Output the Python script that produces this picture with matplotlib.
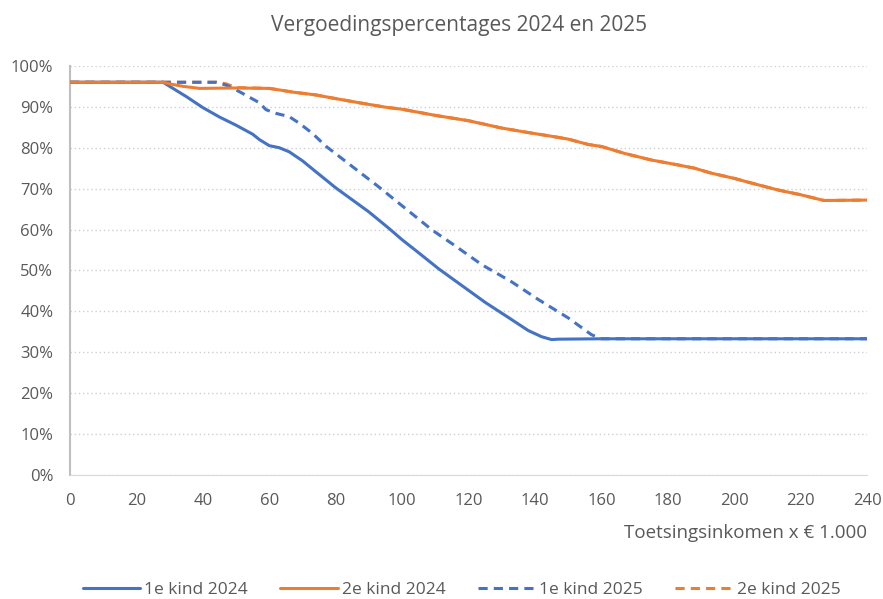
import matplotlib.pyplot as plt
from matplotlib.ticker import PercentFormatter

# ---------------------------------------------
# data (income x 1000 euro)
# ---------------------------------------------
x_1e_2024 = [0, 28, 30, 35, 40, 45, 50, 55, 57, 60, 63, 66, 70, 73, 80, 90, 96,
             100, 105, 111, 118, 125, 132, 138, 142, 145, 147, 160, 200, 240]
y_1e_2024 = [96, 96, 95, 92.5, 89.8, 87.5, 85.5, 83.3, 82, 80.5, 80, 79, 76.8,
             74.8, 70.2, 64.3, 60.3, 57.5, 54.3, 50.4, 46.3, 42.2, 38.5, 35.3,
             33.8, 33.1, 33.2, 33.3, 33.3, 33.3]

x_2e_2024 = [0, 28, 30, 34, 39, 50, 60, 64, 67, 74, 80, 87, 95, 100, 110, 120,
             130, 138, 145, 150, 156, 160, 167, 175, 183, 188, 193, 200, 205,
             213, 220, 224, 227, 240]
y_2e_2024 = [96, 96, 95.6, 95, 94.5, 94.6, 94.5, 94, 93.6, 92.9, 92, 91, 89.9,
             89.4, 87.9, 86.6, 84.8, 83.7, 82.8, 82.1, 80.8, 80.3, 78.6, 77,
             75.8, 75, 73.8, 72.5, 71.4, 69.7, 68.5, 67.7, 67.1, 67.2]

x_1e_2025 = [0, 44, 47, 51, 57, 59, 62, 66, 69, 73, 77, 85, 93, 100, 109, 116,
             124, 133, 141, 150, 157, 160, 200, 240]
y_1e_2025 = [96, 96, 95.3, 93.7, 91, 89.3, 88.4, 87.6, 86, 83.5, 80.4, 75.4,
             70.4, 65.8, 59.9, 56.0, 51.4, 47.2, 42.9, 38.4, 34.3, 33.3, 33.3,
             33.3]

x_2e_2025 = [0, 44, 47, 50, 60, 64, 67, 74, 80, 87, 95, 100, 110, 120, 130,
             138, 145, 150, 156, 160, 167, 175, 183, 188, 193, 200, 205, 213,
             220, 224, 227, 240]
y_2e_2025 = [96, 96, 95.6, 94.7, 94.5, 94, 93.6, 92.9, 92, 91, 89.9, 89.4, 87.9,
             86.6, 84.8, 83.7, 82.8, 82.1, 80.8, 80.3, 78.6, 77, 75.8, 75, 73.8,
             72.5, 71.4, 69.7, 68.5, 67.7, 67.1, 67.2]

x_ticks = list(range(0, 241, 20))
y_ticks = [v / 100 for v in range(0, 101, 10)]

blue = '#4472C4'
orange = '#ED7D31'
grey = '#595959'

plt.rcParams['font.family'] = ['Open Sans', 'DejaVu Sans']

fig = plt.figure(figsize=(8.83, 5.99), dpi=100)
ax = fig.add_axes([0.0793, 0.207, 0.9027, 0.683])

lw = 2.2
ax.plot(x_2e_2025, [v / 100 for v in y_2e_2025], color=orange, lw=lw,
        dashes=(3, 2), label='2e kind 2025', zorder=3)
ax.plot(x_1e_2025, [v / 100 for v in y_1e_2025], color=blue, lw=lw,
        dashes=(3, 2), label='1e kind 2025', zorder=3)
ax.plot(x_1e_2024, [v / 100 for v in y_1e_2024], color=blue, lw=lw,
        label='1e kind 2024', zorder=4, solid_capstyle='round')
ax.plot(x_2e_2024, [v / 100 for v in y_2e_2024], color=orange, lw=lw,
        label='2e kind 2024', zorder=4, solid_capstyle='round')

ax.set_xlim(0, 240)
ax.set_ylim(0, 1)
ax.set_xticks(x_ticks)
ax.set_yticks(y_ticks)
ax.yaxis.set_major_formatter(PercentFormatter(1.0, decimals=0))
ax.tick_params(length=0, labelsize=12, labelcolor=grey)
ax.tick_params(axis='x', pad=13)
ax.tick_params(axis='y', pad=12)

ax.grid(axis='y', color='#d0d0d0', linestyle=(0, (1, 2)), lw=1)
ax.set_axisbelow(True)
for s in ['top', 'right']:
    ax.spines[s].set_visible(False)
ax.spines['left'].set_color('#bfbfbf')
ax.spines['bottom'].set_color('#d9d9d9')
ax.spines['left'].set_linewidth(1.5)

fig.text(0.52, 0.958, 'Vergoedingspercentages 2024 en 2025', ha='center',
         va='center', fontsize=15, color=grey)
fig.text(0.982, 0.11, 'Toetsingsinkomen x € 1.000', ha='right', va='center',
         fontsize=13.5, color=grey)

# legend in the original order
h, l = ax.get_legend_handles_labels()
order = [2, 3, 1, 0]
fig.legend([h[i] for i in order], [l[i] for i in order], loc='center',
           bbox_to_anchor=(0.523, 0.015), ncol=4, frameon=False, fontsize=12.5,
           labelcolor=grey, handlelength=3.3, columnspacing=1.85,
           handletextpad=0.25)

fig.savefig('out.png', dpi=100)
